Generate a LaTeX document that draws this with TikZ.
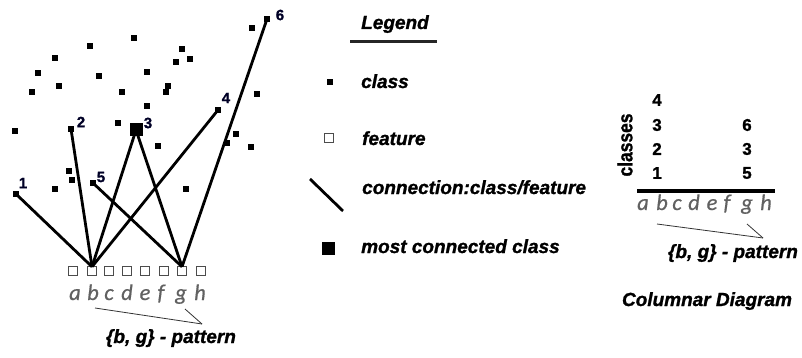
\documentclass[tikz,border=0pt]{standalone}
\usepackage{fontspec}
\setmainfont{Liberation Sans}[BoldItalicFeatures={FakeBold=1.2},BoldFeatures={FakeBold=1.2}]
\newfontfamily\letterfont{Carlito}[ItalicFeatures={FakeBold=0.6}]
\begin{document}
\begin{tikzpicture}[x=1pt,y=-1pt,
  cls/.style={fill=black,minimum size=5.5pt,inner sep=0pt,outer sep=0pt},
  bigcls/.style={fill=black,minimum size=13pt,inner sep=0pt,outer sep=0pt},
  feat/.style={draw=black!70,line width=1.3pt,fill=white,minimum size=8.5pt,inner sep=0pt,outer sep=0pt},
  conn/.style={line width=2.8pt,black},
  lbl/.style={font=\bfseries\fontsize{15}{15}\selectfont,text=black!85!blue,inner sep=0pt},
  letter/.style={font=\letterfont\itshape\fontsize{22.5}{22.5}\selectfont,text=black!62,inner sep=0pt,anchor=base},
  bi/.style={font=\bfseries\itshape\fontsize{19}{19}\selectfont,inner sep=0pt},
  num/.style={font=\bfseries\fontsize{17}{17}\selectfont,inner sep=0pt},
  thin/.style={line width=0.8pt,black!80}
]
\useasboundingbox (0,0) rectangle (802,358);

% ---------- class dots ----------
\foreach \x/\y [count=\i] in {252/28,134/38,90/46,182/49,55/58,190/59,176/62,38/73,99/76,147/72,59/86,32/92,122/92,168/86,166/92,257/94,147/106,15/131,118/123,236/134,227/143,158/146,251/147,69/171,72/180,55/189,186/189}
  \node[cls] (d\i) at (\x,\y) {};

\node[cls] (c1) at (16,194) {};
\node[cls] (c2) at (71,129) {};
\node[bigcls] (c3) at (136,130) {};
\node[cls] (c4) at (218,110) {};
\node[cls] (c5) at (93,183) {};
\node[cls] (c6) at (267,19) {};

\node[lbl] (l1) at (23,183) {1};
\node[lbl] (l2) at (81,122) {2};
\node[lbl] (l3) at (148,123) {3};
\node[lbl] (l4) at (226,98) {4};
\node[lbl] (l5) at (101,177) {5};
\node[lbl] (l6) at (280,15) {6};

% ---------- features ----------
\foreach \n/\x in {a/73,b/92,c/109,d/127,e/145,f/164,g/182,h/201}
  \node[feat] (f\n) at (\x,271) {};

% ---------- connections ----------
\foreach \c in {c1,c2,c3,c4}
  \draw[conn] (\c.center) -- (fb.north);
\foreach \c in {c3,c5,c6}
  \draw[conn] (\c.center) -- (fg.north);
\node[bigcls] at (c3) {};
\foreach \c in {c1,c2,c4,c5,c6}
  \node[cls] at (\c) {};

% ---------- feature letters ----------
\foreach \n/\x in {a/75,b/93,c/109,d/127,e/145,f/161,g/181,h/200}
  \node[letter] (t\n) at (\x,300) {\n};

\coordinate (pl1) at (95,308);
\coordinate (pl2) at (185,309);
\coordinate (pltip) at (202,324);
\draw[thin] (pl1) -- (pltip);
\draw[thin] (pl2) -- (pltip);
\node[bi,anchor=base] (patl) at (171,343) {\{b, g\} - pattern};

% ---------- legend ----------
\node[bi,anchor=base west] (leg) at (361,29) {Legend};
\coordinate (u1) at (350,42);
\coordinate (u2) at (437,42);
\draw[line width=3pt,black!85] (u1) -- (u2);

\node[cls] (lgc) at (330,82) {};
\node[bi,anchor=base west] (lgct) at (361,88) {class};
\node[feat] (lgf) at (329,138) {};
\node[bi,anchor=base west] (lgft) at (362,145) {feature};
\coordinate (lgl1) at (310,179);
\coordinate (lgl2) at (343,211);
\draw[conn] (lgl1) -- (lgl2);
\node[bi,anchor=base west] (lglt) at (362,194) {connection:class/feature};
\node[bigcls] (lgm) at (328,248) {};
\node[bi,anchor=base west] (lgmt) at (361,253) {most connected class};

% ---------- columnar diagram ----------
\node[num,rotate=90] (cls) at (625,145) {\scalebox{0.85}[1]{\fontsize{20.5}{20.5}\selectfont classes}};
\node[num] (n4) at (657,100) {4};
\node[num] (n3) at (657,125) {3};
\node[num] (n2) at (657,149) {2};
\node[num] (n1) at (657,173) {1};
\node[num] (m6) at (747,125) {6};
\node[num] (m3) at (747,149) {3};
\node[num] (m5) at (747,173) {5};
\coordinate (h1) at (637,191);
\coordinate (h2) at (775,191);
\draw[line width=3.2pt,black] (h1) -- (h2);

\foreach \n/\x in {a/643,b/662,c/677,d/694,e/712,f/727,g/747,h/766}
  \node[letter] (r\n) at (\x,210) {\n};

\coordinate (pr1) at (657,224);
\coordinate (pr2) at (747,224);
\coordinate (prtip) at (763,238);
\draw[thin] (pr1) -- (prtip);
\draw[thin] (pr2) -- (prtip);
\node[bi,anchor=base] (patr) at (733,258) {\{b, g\} - pattern};
\node[bi,anchor=base] (coldiag) at (707,306) {Columnar Diagram};
\end{tikzpicture}
\end{document}
